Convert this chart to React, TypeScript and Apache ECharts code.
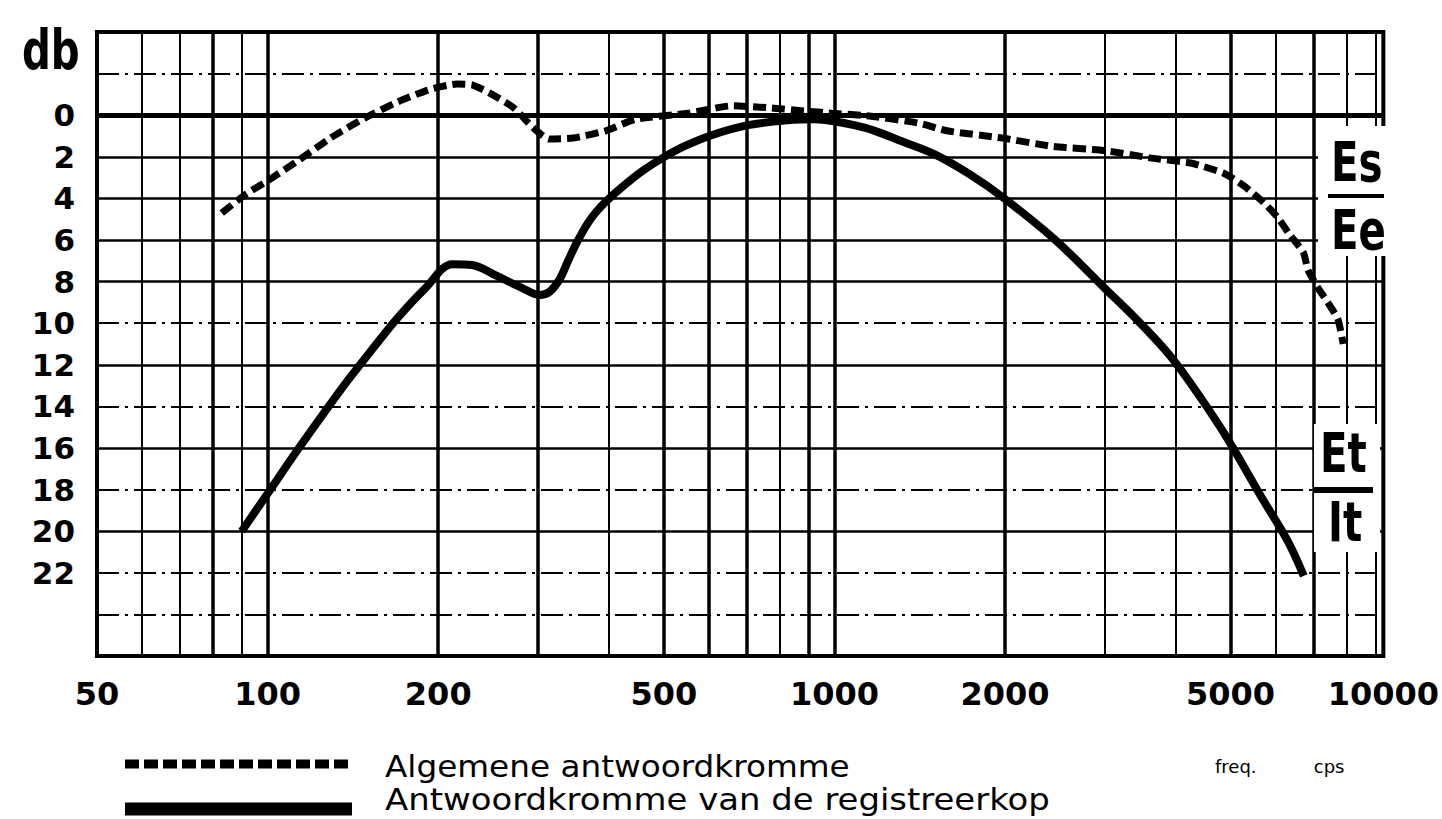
import { useEffect, useRef } from "react";
import * as echarts from "echarts";

// ---- axes ----
const X_MIN = 50;
const X_MAX = 9300; // right edge of the printed grid (labelled 10000)
const xLabelValues = [50, 100, 200, 500, 1000, 2000, 5000, 9300];
const xLabelTexts = ["50", "100", "200", "500", "1000", "2000", "5000", "10000"];
const xMajorLines = [80, 100, 200, 300, 500, 600, 700, 900, 1000, 2000, 5000, 7000];
const xMinorLines = [60, 70, 90, 400, 800, 3000, 4000, 6000, 8000, 9000];

const Y_MIN = -4;
const Y_MAX = 26;
const yLabelValues = [0, 2, 4, 6, 8, 10, 12, 14, 16, 18, 20, 22];
const ySolidLines = [2, 4, 6, 8, 12, 16, 20];
const yDashDotLines = [-2, 10, 14, 18, 22, 24];
const yZeroLine = [0];

// ---- series: Algemene antwoordkromme (Es/Ee) ----
const generalFreq = [83, 91.5, 100, 113, 129, 148, 170, 194, 216, 230, 247, 272, 294, 314, 346, 395, 446, 553, 661, 775, 885, 988, 1160, 1420, 1580, 1980, 2430, 3000, 3600, 4250, 4870, 5280, 5720, 6050, 6340, 6720, 6850, 7130, 7420, 7730, 7900];
const generalDb = [4.7, 3.8, 3.15, 2.2, 1.1, 0.15, -0.65, -1.25, -1.5, -1.45, -1.05, -0.35, 0.6, 1.15, 1.1, 0.75, 0.2, -0.1, -0.45, -0.35, -0.2, -0.1, 0.05, 0.4, 0.75, 1.1, 1.5, 1.7, 2.05, 2.3, 2.8, 3.4, 4.2, 4.9, 5.7, 6.6, 7.45, 8.3, 9.0, 9.8, 11.0];

// ---- series: Antwoordkromme van de registreerkop (Et/It) ----
const headFreq = [90, 100, 113.3, 125.3, 138.6, 153.3, 169.6, 189.9, 211.8, 229.5, 253.8, 280.8, 301.9, 314, 327, 339, 350, 367, 384, 408, 433, 463, 498, 545, 609, 704, 827, 923, 1000, 1084, 1175, 1300, 1497, 1723, 1985, 2456, 3006, 3391, 3826, 4213, 4854, 5659, 6308, 6731];
const headDb = [20.0, 18.19, 16.04, 14.37, 12.74, 11.22, 9.74, 8.31, 7.16, 7.2, 7.73, 8.3, 8.64, 8.5, 7.92, 7.0, 6.2, 5.2, 4.5, 3.8, 3.2, 2.6, 2.05, 1.48, 0.95, 0.48, 0.24, 0.19, 0.29, 0.48, 0.74, 1.2, 1.86, 2.8, 3.96, 6.01, 8.35, 9.74, 11.26, 12.74, 15.23, 18.33, 20.48, 22.15];

const legendNames = ["Algemene antwoordkromme", "Antwoordkromme van de registreerkop"];

const NARROW = "'Liberation Sans Narrow', 'DejaVu Sans Condensed', 'Liberation Sans', sans-serif";
const SANS = "'DejaVu Sans', 'Liberation Sans', sans-serif";

export default function App() {
  const ref = useRef<HTMLDivElement>(null);

  useEffect(() => {
    if (!ref.current) return;
    const chart = echarts.init(ref.current, null, { renderer: "svg" });
    const lg = (v: number) => Math.log10(v);
    const xMin = lg(X_MIN);
    const xMax = lg(X_MAX);

    const baseX = {
      type: "value",
      gridIndex: 0,
      min: xMin,
      max: xMax,
      position: "bottom",
      axisLine: { show: false },
      axisLabel: { show: false },
      axisTick: { show: false },
      splitLine: { show: false },
    };
    const baseY = {
      type: "value",
      gridIndex: 0,
      inverse: true,
      min: Y_MIN,
      max: Y_MAX,
      position: "left",
      axisLine: { show: false },
      axisLabel: { show: false },
      axisTick: { show: false },
      splitLine: { show: false },
    };

    const xLabelLogs = xLabelValues.map((v) => lg(v));

    const option: any = {
      animation: false,
      backgroundColor: "#ffffff",
      grid: {
        left: 97,
        top: 32,
        right: 50,
        bottom: 163,
        show: true,
        borderColor: "#000",
        borderWidth: 4,
        backgroundColor: "transparent",
      },
      xAxis: [
        {
          ...baseX,
          axisLabel: {
            show: true,
            customValues: xLabelLogs,
            formatter: (v: number) => {
              const i = xLabelLogs.findIndex((x) => Math.abs(x - v) < 1e-6);
              return i >= 0 ? xLabelTexts[i] : "";
            },
            fontSize: 32,
            fontWeight: "bold",
            fontFamily: SANS,
            color: "#000",
            margin: 22,
          },
          axisTick: { show: false, customValues: xMajorLines.map((v) => lg(v)) },
          splitLine: { show: true, lineStyle: { color: "#000", width: 3.5 } },
        },
        {
          ...baseX,
          axisTick: { show: false, customValues: xMinorLines.map((v) => lg(v)) },
          splitLine: { show: true, lineStyle: { color: "#000", width: 2 } },
        },
      ],
      yAxis: [
        {
          ...baseY,
          axisLabel: {
            show: true,
            customValues: yLabelValues,
            formatter: (v: number) => String(v),
            fontSize: 31,
            fontWeight: "bold",
            fontFamily: SANS,
            color: "#000",
            margin: 22,
            padding: [0, 0, 22, 0],
          },
          axisTick: { show: false, customValues: ySolidLines },
          splitLine: { show: true, lineStyle: { color: "#000", width: 2.5 } },
        },
        {
          ...baseY,
          axisTick: { show: false, customValues: yDashDotLines },
          splitLine: { show: true, lineStyle: { color: "#000", width: 2.2, type: [22, 6, 3, 6] } },
        },
        {
          ...baseY,
          axisTick: { show: false, customValues: yZeroLine },
          splitLine: { show: true, lineStyle: { color: "#000", width: 5 } },
        },
      ],
      series: [
        {
          type: "line",
          name: legendNames[0],
          xAxisIndex: 0,
          yAxisIndex: 0,
          data: generalFreq.map((f, i) => [lg(f), generalDb[i]]),
          symbol: "none",
          smooth: 0.2,
          lineStyle: { color: "#000", width: 7, type: [13, 6] },
          z: 3,
        },
        {
          type: "line",
          name: legendNames[1],
          xAxisIndex: 0,
          yAxisIndex: 0,
          data: headFreq.map((f, i) => [lg(f), headDb[i]]),
          symbol: "none",
          smooth: 0.35,
          lineStyle: { color: "#000", width: 8 },
          z: 3,
        },
      ],
      graphic: [
        // y unit
        {
          type: "text",
          x: 22,
          y: 50,
          z: 10,
          scaleX: 0.8,
          style: { text: "db", fontSize: 56, fontWeight: "bold", fontFamily: NARROW, fill: "#000", align: "left", verticalAlign: "middle" },
        },
        // Es / Ee fraction
        { type: "rect", z: 8, shape: { x: 1318, y: 126, width: 70, height: 130 }, style: { fill: "#fff" } },
        { type: "text", x: 1331, y: 162, z: 10, scaleX: 0.8, style: { text: "Es", fontSize: 56, fontWeight: "bold", fontFamily: NARROW, fill: "#000", align: "left", verticalAlign: "middle" } },
        { type: "rect", z: 10, shape: { x: 1328, y: 194, width: 56, height: 4 }, style: { fill: "#000" } },
        { type: "text", x: 1331, y: 230, z: 10, scaleX: 0.8, style: { text: "Ee", fontSize: 56, fontWeight: "bold", fontFamily: NARROW, fill: "#000", align: "left", verticalAlign: "middle" } },
        // Et / It fraction
        { type: "rect", z: 8, shape: { x: 1314, y: 424, width: 66, height: 128 }, style: { fill: "#fff" } },
        { type: "text", x: 1320, y: 453, z: 10, scaleX: 0.8, style: { text: "Et", fontSize: 56, fontWeight: "bold", fontFamily: NARROW, fill: "#000", align: "left", verticalAlign: "middle" } },
        { type: "rect", z: 10, shape: { x: 1313, y: 487, width: 60, height: 6 }, style: { fill: "#000" } },
        { type: "text", x: 1328, y: 522, z: 10, scaleX: 0.8, style: { text: "It", fontSize: 56, fontWeight: "bold", fontFamily: NARROW, fill: "#000", align: "left", verticalAlign: "middle" } },
        // legend
        { type: "line", z: 10, shape: { x1: 125, y1: 764, x2: 352, y2: 764 }, style: { stroke: "#000", lineWidth: 9, lineDash: [14, 5] } },
        { type: "text", x: 385, y: 766, z: 10, scaleX: 1.09, style: { text: legendNames[0], fontSize: 30, fontFamily: SANS, fill: "#000", align: "left", verticalAlign: "middle" } },
        { type: "line", z: 10, shape: { x1: 125, y1: 809, x2: 352, y2: 809 }, style: { stroke: "#000", lineWidth: 13 } },
        { type: "text", x: 385, y: 800, z: 10, scaleX: 1.13, style: { text: legendNames[1], fontSize: 30, fontFamily: SANS, fill: "#000", align: "left", verticalAlign: "middle" } },
        // x unit
        { type: "text", x: 1215, y: 766, z: 10, style: { text: "freq.          cps", fontSize: 18, fontFamily: SANS, fill: "#000", align: "left", verticalAlign: "middle" } },
      ],
    };

    chart.setOption(option);
    return () => chart.dispose();
  }, []);

  return (
    <div
      ref={ref}
      style={{ position: "fixed", left: 0, top: 0, width: 1442, height: 819, background: "#fff" }}
    />
  );
}
